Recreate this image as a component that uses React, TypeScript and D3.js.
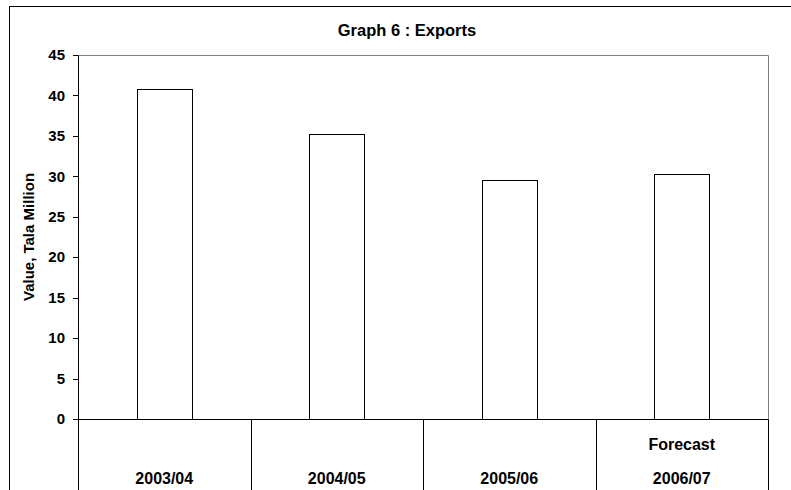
import React from "react";
import * as d3 from "d3";

// Export values, Tala million
const categories = ["2003/04", "2004/05", "2005/06", "2006/07"];
const exportsValues = [40.8, 35.2, 29.6, 30.3];
const categoryNotes = ["", "", "", "Forecast"];
const yTicks = [0, 5, 10, 15, 20, 25, 30, 35, 40, 45];

const W = 791;
const H = 490;
const plot = { left: 78, right: 768, top: 55, bottom: 419 };
const font = "'Liberation Sans', Arial, Helvetica, sans-serif";

export default function App() {
  const x = d3
    .scaleBand<string>()
    .domain(categories)
    .range([plot.left, plot.right])
    .padding(0);
  const y = d3.scaleLinear().domain([0, 45]).range([plot.bottom, plot.top]);
  const barW = x.bandwidth() * 0.32;
  const crisp = (v: number) => Math.round(v) + 0.5;

  return (
    <svg
      width={W}
      height={H}
      style={{ position: "absolute", left: 0, top: 0, background: "#fff" }}
      fontFamily={font}
    >
      {/* chart frame */}
      <rect x={9.5} y={6.5} width={800} height={500} fill="#fff" stroke="#000" strokeWidth={1} />

      <text x={407} y={36} textAnchor="middle" fontSize={16.5} fontWeight="bold">
        Graph 6 : Exports
      </text>

      {/* plot area border (top & right) */}
      <line x1={crisp(plot.left)} x2={crisp(plot.right)} y1={crisp(plot.top)} y2={crisp(plot.top)} stroke="#808080" />
      <line x1={crisp(plot.right)} x2={crisp(plot.right)} y1={crisp(plot.top)} y2={crisp(plot.bottom)} stroke="#808080" />

      {/* bars */}
      {categories.map((c, i) => {
        const cx = (x(c) as number) + x.bandwidth() / 2;
        const x0 = Math.round(cx - barW / 2) + 0.5;
        const x1 = Math.round(cx + barW / 2) + 0.5;
        const yTop = Math.round(y(exportsValues[i])) + 0.5;
        return (
          <rect
            key={c}
            x={x0}
            y={yTop}
            width={x1 - x0}
            height={crisp(y(0)) - yTop}
            fill="#fff"
            stroke="#000"
            strokeWidth={1}
          />
        );
      })}

      {/* y axis */}
      <line x1={crisp(plot.left)} x2={crisp(plot.left)} y1={crisp(plot.top)} y2={H + 2} stroke="#000" />
      {yTicks.map((t) => (
        <g key={t}>
          <line x1={plot.left - 5} x2={crisp(plot.left)} y1={crisp(y(t))} y2={crisp(y(t))} stroke="#000" />
          <text
            x={65}
            y={y(t)}
            dy="0.35em"
            textAnchor="end"
            fontSize={15}
            fontWeight="bold"
          >
            {t}
          </text>
        </g>
      ))}
      <text
        transform={`translate(34, ${(plot.top + plot.bottom) / 2}) rotate(-90)`}
        textAnchor="middle"
        fontSize={15}
        fontWeight="bold"
      >
        Value, Tala Million
      </text>

      {/* category table below the zero line */}
      <line x1={crisp(plot.left)} x2={crisp(plot.right)} y1={crisp(y(0))} y2={crisp(y(0))} stroke="#000" />
      {categories.map((c) => (
        <line
          key={`div-${c}`}
          x1={crisp((x(c) as number) + x.bandwidth())}
          x2={crisp((x(c) as number) + x.bandwidth())}
          y1={crisp(y(0))}
          y2={H + 2}
          stroke="#000"
        />
      ))}
      {categories.map((c, i) => {
        const cx = (x(c) as number) + x.bandwidth() / 2;
        return (
          <g key={`lab-${c}`}>
            {categoryNotes[i] && (
              <text x={cx} y={450} textAnchor="middle" fontSize={16} fontWeight="bold">
                {categoryNotes[i]}
              </text>
            )}
            <text x={cx} y={484} textAnchor="middle" fontSize={16} fontWeight="bold">
              {c}
            </text>
          </g>
        );
      })}
    </svg>
  );
}
